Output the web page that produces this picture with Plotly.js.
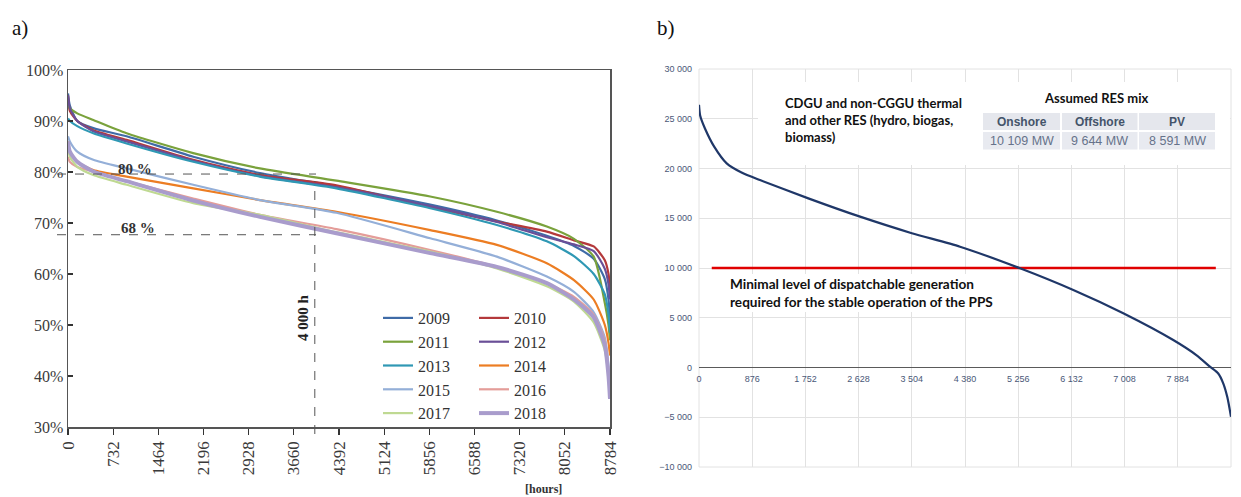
<!DOCTYPE html>
<html><head><meta charset="utf-8">
<script src="https://cdn.plot.ly/plotly-3.0.1.min.js"></script>
<style>html,body{margin:0;padding:0;background:#fff;} #chart{width:1241px;height:497px;}</style>
</head><body><div id="chart"></div>
<script>
const W = 1241, H = 497;
const px = x => x / W, py = y => 1 - y / H;

// ---------- chart a) data ----------
const hoursA = [0, 30, 150, 410, 950, 2030, 3110, 4350, 5870, 6950, 7760, 8200, 8520, 8700, 8760, 8784];
const years = ['2009','2010','2011','2012','2013','2014','2015','2016','2017','2018'];
const share2009 = [95.4, 93.0, 90.0, 88.6, 87.0, 83.0, 79.8, 77.2, 73.6, 70.5, 67.5, 65.5, 63.0, 59.0, 55.0, 51.0];
const share2010 = [95.0, 92.0, 90.0, 88.2, 86.3, 82.4, 79.4, 77.4, 73.1, 70.3, 68.3, 66.6, 65.4, 62.7, 60.0, 57.0];
const share2011 = [93.5, 92.5, 91.5, 90.2, 87.6, 83.7, 80.7, 78.3, 75.2, 72.2, 69.3, 66.9, 63.4, 54.3, 50.0, 47.0];
const share2012 = [95.0, 92.5, 90.0, 88.0, 86.0, 82.2, 79.2, 77.0, 73.3, 70.2, 67.2, 65.8, 64.5, 61.0, 58.0, 55.0];
const share2013 = [90.5, 90.0, 89.0, 87.6, 85.6, 82.0, 79.1, 76.8, 72.9, 69.6, 66.4, 63.5, 60.0, 56.0, 52.0, 48.5];
const share2014 = [86.0, 84.0, 82.0, 80.4, 79.1, 76.8, 74.5, 72.2, 68.6, 65.7, 62.1, 58.8, 55.0, 50.0, 46.5, 44.0];
const share2015 = [87.0, 86.0, 84.0, 82.4, 80.7, 77.5, 74.5, 72.0, 67.0, 63.4, 59.5, 56.5, 52.5, 47.5, 42.0, 38.0];
const share2016 = [83.0, 82.0, 81.0, 80.1, 78.2, 74.8, 71.6, 68.8, 64.7, 61.4, 58.2, 55.5, 52.0, 47.0, 41.0, 37.0];
const share2017 = [85.0, 83.0, 81.0, 79.4, 77.5, 73.9, 71.6, 68.2, 64.4, 61.1, 57.6, 54.6, 50.5, 45.0, 40.0, 36.0];
const share2018 = [86.0, 84.0, 82.0, 80.1, 78.2, 74.4, 71.2, 68.0, 64.1, 61.4, 58.2, 55.0, 51.5, 46.0, 40.0, 35.5];
const tickHoursA = [0, 732, 1464, 2196, 2928, 3660, 4392, 5124, 5856, 6588, 7320, 8052, 8784];
const markHour = 4000, markHigh = 79.6, markLow = 67.7;

// ---------- chart b) data ----------
const hoursB = [0, 20, 100, 250, 456, 700, 1004, 1800, 2652, 3504, 4298, 5286, 6163, 6986, 7809, 8200, 8413, 8550, 8632, 8700, 8760];
const residualMW = [26400, 25300, 24000, 22200, 20520, 19600, 18840, 17000, 15160, 13500, 12140, 9970, 7790, 5450, 2760, 1200, 80, -600, -1590, -3000, -4950];
const minLevelHours = [210, 8510];
const minLevelMW = [10000, 10000];
const tickHoursB = [0, 876, 1752, 2628, 3504, 4380, 5256, 6132, 7008, 7884, 8760];
const resMixTypes = ['Onshore', 'Offshore', 'PV'];
const resMixCapacity = ['10 109 MW', '9 644 MW', '8 591 MW'];

const seriesA = [share2009, share2010, share2011, share2012, share2013, share2014, share2015, share2016, share2017, share2018];
const colorsA = ['#3f6ba7', '#b4393b', '#7aa23c', '#6a4f97', '#2f98b4', '#ec7d23', '#94afd8', '#e49d99', '#bfd992', '#a99ccc'];
const widthsA = [2.2, 2.2, 2.2, 2.2, 2.2, 2.2, 2.2, 2.2, 2.2, 4];

const traces = [];
seriesA.forEach((s, i) => {
  traces.push({
    type: 'scatter', mode: 'lines', x: hoursA, y: s, name: years[i],
    xaxis: 'x', yaxis: 'y',
    line: {color: colorsA[i], width: widthsA[i], shape: 'spline', smoothing: 0.6},
    legend: (i % 2 === 0) ? 'legend' : 'legend2',
    hoverinfo: 'skip'
  });
});
traces.push({
  type: 'scatter', mode: 'lines', x: minLevelHours, y: minLevelMW, xaxis: 'x2', yaxis: 'y2',
  line: {color: '#e00000', width: 2.5}, showlegend: false, hoverinfo: 'skip'
});
traces.push({
  type: 'scatter', mode: 'lines', x: hoursB, y: residualMW, xaxis: 'x2', yaxis: 'y2',
  line: {color: '#1f3768', width: 2.2, shape: 'spline', smoothing: 0.6}, showlegend: false, hoverinfo: 'skip'
});

const serif = 'Liberation Serif, Times New Roman, serif';
const sans = 'Liberation Sans, Arial, sans-serif';
const lato = 'Lato, Liberation Sans, sans-serif';

const shapes = [
  {type: 'line', xref: 'paper', yref: 'y', x0: px(57), x1: px(316), y0: markHigh, y1: markHigh, line: {color: '#555', width: 1, dash: 'dash'}},
  {type: 'line', xref: 'paper', yref: 'y', x0: px(57), x1: px(316), y0: markLow, y1: markLow, line: {color: '#555', width: 1, dash: 'dash'}},
  {type: 'line', xref: 'x', yref: 'paper', x0: markHour, x1: markHour, y0: py(434), y1: py(181), line: {color: '#555', width: 1, dash: 'dash'}},
  {type: 'rect', xref: 'x2 domain', yref: 'y2 domain', x0: 0, x1: 1, y0: 0, y1: 1, line: {color: '#e2e2e2', width: 1}, layer: 'below'},
  {type: 'rect', xref: 'paper', yref: 'paper', x0: px(758), x1: px(1230), y0: py(165), y1: py(82), fillcolor: '#fff', line: {width: 0}, layer: 'above'},
  {type: 'rect', xref: 'paper', yref: 'paper', x0: px(722), x1: px(1000), y0: py(312), y1: py(274), fillcolor: '#fff', line: {width: 0}, layer: 'above'}
];
const colEdges = [[983, 1060], [1062, 1137.5], [1139, 1215]];
colEdges.forEach(e => {
  shapes.push({type: 'rect', xref: 'paper', yref: 'paper', x0: px(e[0]), x1: px(e[1]), y0: py(130), y1: py(113), fillcolor: '#e5e7ed', line: {width: 0}, layer: 'above'});
  shapes.push({type: 'rect', xref: 'paper', yref: 'paper', x0: px(e[0]), x1: px(e[1]), y0: py(149.5), y1: py(132), fillcolor: '#e8eaf0', line: {width: 0}, layer: 'above'});
});

function ann(text, x, y, font, opts) {
  return Object.assign({text: text, xref: 'paper', yref: 'paper', x: px(x), y: py(y), showarrow: false,
    xanchor: 'center', yanchor: 'middle', font: font}, opts || {});
}
const annotations = [
  ann('a)', 10, 28, {family: serif, size: 21, color: '#111'}, {xanchor: 'left'}),
  ann('b)', 655, 28, {family: serif, size: 21, color: '#111'}, {xanchor: 'left'}),
  ann('<b>80 %</b>', 135, 168.5, {family: serif, size: 15, color: '#333'}),
  ann('<b>68 %</b>', 138, 227.5, {family: serif, size: 15, color: '#333'}),
  ann('<b>4 000 h</b>', 303, 318, {family: serif, size: 15, color: '#222'}, {textangle: -90}),
  ann('<b>[hours]</b>', 543, 489, {family: serif, size: 12, color: '#333'}),
  ann('<b>CDGU and non-CGGU thermal</b>', 783, 103, {family: lato, size: 13, color: '#111'}, {xanchor: 'left'}),
  ann('<b>and other RES (hydro, biogas,</b>', 783, 120, {family: lato, size: 13, color: '#111'}, {xanchor: 'left'}),
  ann('<b>biomass)</b>', 783, 137, {family: lato, size: 13, color: '#111'}, {xanchor: 'left'}),
  ann('<b>Assumed RES mix</b>', 1096, 98, {family: lato, size: 13, color: '#111'}),
  ann('<b>Minimal level of dispatchable generation</b>', 728, 284, {family: lato, size: 13.6, color: '#111'}, {xanchor: 'left'}),
  ann('<b>required for the stable operation of the PPS</b>', 728, 302, {family: lato, size: 13.6, color: '#111'}, {xanchor: 'left'})
];
resMixTypes.forEach((t, i) => {
  const cx = (colEdges[i][0] + colEdges[i][1]) / 2;
  annotations.push(ann('<b>' + t + '</b>', cx, 122, {family: sans, size: 12, color: '#44546a'}));
  annotations.push(ann(resMixCapacity[i], cx, 141, {family: sans, size: 12.5, color: '#66728a'}));
});

const layout = {
  width: W, height: H, margin: {l: 0, r: 0, t: 0, b: 0},
  paper_bgcolor: '#fff', plot_bgcolor: 'rgba(0,0,0,0)',
  separators: ', ',
  showlegend: true,
  xaxis: {domain: [px(68), px(610)], range: [0, 8784], tickvals: tickHoursA, tickangle: -90,
    ticks: 'outside', ticklen: 6, tickcolor: '#333', tickwidth: 1.2,
    showline: true, linecolor: '#555', linewidth: 1.5, mirror: true, showgrid: false, zeroline: false,
    tickfont: {family: serif, size: 17, color: '#3a3a3a'}, anchor: 'y', fixedrange: true},
  yaxis: {domain: [py(427), py(70)], range: [30, 100], dtick: 10, ticksuffix: '%',
    ticks: 'inside', ticklen: 5, tickcolor: '#333', tickwidth: 1.2,
    showline: true, linecolor: '#555', linewidth: 1.5, mirror: true, showgrid: false, zeroline: false,
    tickfont: {family: serif, size: 16, color: '#3a3a3a'}, anchor: 'x', fixedrange: true},
  xaxis2: {domain: [px(699), px(1231)], range: [0, 8760], tickvals: tickHoursB, tickformat: ',d',
    anchor: 'free', position: py(367.5), showgrid: true, gridcolor: '#e2e2e2', gridwidth: 1,
    ticks: '', showline: false, zeroline: false, ticklabelstandoff: 4,
    tickfont: {family: sans, size: 9, color: '#4a5878'}, fixedrange: true},
  yaxis2: {domain: [py(467), py(69)], range: [-10000, 30000], dtick: 5000, anchor: 'x2', tickformat: ',d',
    showgrid: true, gridcolor: '#e2e2e2', gridwidth: 1, zeroline: true, zerolinecolor: '#5a5a5a', zerolinewidth: 1.5,
    ticks: '', showline: false, ticklabelstandoff: 6,
    tickfont: {family: sans, size: 9, color: '#4a5878'}, fixedrange: true},
  legend: {x: px(378), y: py(301), xanchor: 'left', yanchor: 'top', bgcolor: 'rgba(0,0,0,0)',
    font: {family: serif, size: 16, color: '#333'}, itemwidth: 30, tracegroupgap: 0, traceorder: 'normal'},
  legend2: {x: px(474), y: py(301), xanchor: 'left', yanchor: 'top', bgcolor: 'rgba(0,0,0,0)',
    font: {family: serif, size: 16, color: '#333'}, itemwidth: 30, tracegroupgap: 0, traceorder: 'normal'},
  shapes: shapes,
  annotations: annotations
};

Plotly.newPlot('chart', traces, layout, {staticPlot: true, displayModeBar: false});
</script>
</body></html>
